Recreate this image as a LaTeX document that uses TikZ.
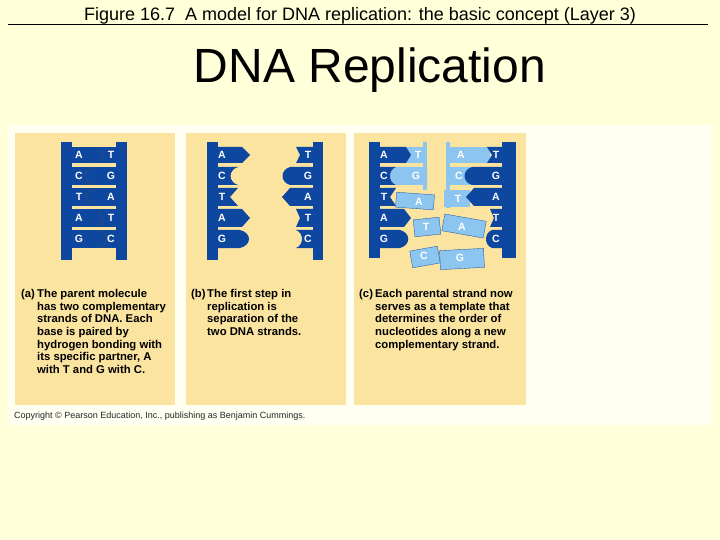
\documentclass[tikz,border=0pt]{standalone}
\usepackage{fontspec}
\setmainfont{Liberation Sans}
\definecolor{pagebg}{HTML}{FFFFD9}
\definecolor{figbg}{HTML}{FFFFF2}
\definecolor{tan}{HTML}{FBE3A0}
\definecolor{dblue}{HTML}{0E47A0}
\definecolor{lblue}{HTML}{8CC6F0}
\begin{document}
\begin{tikzpicture}[x=1pt,y=-1pt,
  panel/.style={fill=tan,draw=none},
  bb/.style={fill=dblue,draw=none},
  nb/.style={fill=lblue,draw=dblue,line width=0.3pt},
  let/.style={text=white,font=\bfseries\fontsize{10.5}{11}\selectfont,inner sep=0},
  letn/.style={text=white,font=\bfseries\fontsize{10.5}{11}\selectfont,inner sep=0},
  captxt/.style={font=\bfseries\fontsize{11.3}{12.7}\selectfont,align=left,anchor=north west,inner sep=0},
  jn/.style={draw=black!70,line width=0.4pt}]
\useasboundingbox (0,0) rectangle (720,540);
\fill[pagebg] (0,0) rectangle (720,540);
\node[font=\fontsize{18}{20}\selectfont,inner sep=0] (title) at (360,16) {Figure 16.7\ \ A model for DNA replication: the basic concept (Layer 3)};
\draw[line width=0.6pt] (8,24) -- (708,24);
\node[font=\fontsize{48}{52}\selectfont,inner sep=0] (head) at (370,70) {DNA Replication};
\fill[figbg] (8,125) rectangle (713,425);
\fill[panel] (15,133) rectangle (175,405);
\fill[panel] (186,133) rectangle (346,405);
\fill[panel] (354,133) rectangle (526,405);
% ---- panel a
\fill[bb] (61,142) rectangle (72,260);
\fill[bb] (116,142) rectangle (127,260);
\foreach \ya/\yb in {147/163,167/185,188/206,209/227,230/248} \fill[bb] (72,\ya) rectangle (116,\yb);
\draw[jn] (99,147) -- (103,155) -- (99,163);
\draw[jn] (93,167) .. controls (83,170) and (83,182) .. (93,185);
\draw[jn] (93,188) -- (85,197) -- (93,206);
\draw[jn] (99,209) -- (103,218) -- (99,227);
\draw[jn] (99,230) .. controls (109,233) and (109,245) .. (99,248);
\foreach \y/\l/\r in {155/A/T,176/C/G,197/T/A,218/A/T,239/G/C}{
  \node[let] at (79,\y) {\l}; \node[let] at (111,\y) {\r};}
% ---- panel b
\fill[bb] (207,142) rectangle (218,260);
\fill[bb] (313,142) rectangle (323,260);
\fill[bb] (218,147) -- (242,147) -- (250,155) -- (242,163) -- (218,163) -- cycle;
\fill[bb] (218,167) -- (238,167) .. controls (228,170) and (228,182) .. (238,185) -- (218,185) -- cycle;
\fill[bb] (218,188) -- (238,188) -- (230,197) -- (238,206) -- (218,206) -- cycle;
\fill[bb] (218,209) -- (242,209) -- (250,218) -- (242,227) -- (218,227) -- cycle;
\fill[bb] (218,230) -- (240,230) .. controls (252,233) and (252,245) .. (240,248) -- (218,248) -- cycle;
\fill[bb] (313,147) -- (296,147) -- (300,155) -- (296,163) -- (313,163) -- cycle;
\fill[bb] (313,167) -- (290,167) .. controls (280,170) and (280,182) .. (290,185) -- (313,185) -- cycle;
\fill[bb] (313,188) -- (290,188) -- (282,197) -- (290,206) -- (313,206) -- cycle;
\fill[bb] (313,209) -- (296,209) -- (300,218) -- (296,227) -- (313,227) -- cycle;
\fill[bb] (313,230) -- (296,230) .. controls (304,233) and (304,245) .. (296,248) -- (313,248) -- cycle;
\foreach \y/\l/\r in {155/A/T,176/C/G,197/T/A,218/A/T,239/G/C}{
  \node[let] at (222,\y) {\l}; \node[let] at (308,\y) {\r};}
% ---- panel c
\fill[bb] (369,142) rectangle (380,258);
\fill[bb] (502,142) rectangle (516,258);
\fill[lblue] (423,142) rectangle (427,190);
\fill[lblue] (446,142) rectangle (450,208);
% left row 1,2
\fill[lblue] (400,147) rectangle (427,163);
\fill[bb] (380,147) -- (406,147) -- (411,155) -- (406,163) -- (380,163) -- cycle;
\fill[lblue] (396,167) -- (427,167) -- (427,185) -- (396,185) .. controls (388,182) and (388,170) .. (396,167) -- cycle;
\fill[bb] (380,167) -- (396,167) .. controls (388,170) and (388,182) .. (396,185) -- (380,185) -- cycle;
% left row 3-5
\fill[bb] (380,188) -- (396,188) -- (390,197) -- (396,206) -- (380,206) -- cycle;
\fill[bb] (380,209) -- (404,209) -- (411,218) -- (404,227) -- (380,227) -- cycle;
\fill[bb] (380,230) -- (400,230) .. controls (411,233) and (411,245) .. (400,248) -- (380,248) -- cycle;
\node[nb,rotate=-4,minimum width=38,minimum height=15,inner sep=0] (nA1) at (415,201) {};
\node[letn] at (419,202) {A};
\node[nb,rotate=6,minimum width=26,minimum height=17,inner sep=0] (nT1) at (427,227) {};
\node[letn] at (426,227) {T};
\node[nb,rotate=10,minimum width=28,minimum height=17,inner sep=0] (nC1) at (425,257) {};
\node[letn] at (424,256) {C};
% right row 1,2
\fill[lblue] (450,147) rectangle (490,163);
\fill[bb] (502,147) -- (487,147) -- (492,155) -- (487,163) -- (502,163) -- cycle;
\fill[lblue] (450,167) rectangle (472,185);
\fill[bb] (502,167) -- (472,167) .. controls (462,170) and (462,182) .. (472,185) -- (502,185) -- cycle;
\fill[lblue] (444,190) -- (470,190) -- (470,207) -- (444,207) -- cycle;
\fill[bb] (502,188) -- (474,188) -- (466,197) -- (474,206) -- (502,206) -- cycle;
\fill[bb] (502,209) -- (490,209) -- (494,218) -- (490,227) -- (502,227) -- cycle;
\fill[bb] (502,230) -- (492,230) .. controls (484,233) and (484,245) .. (492,248) -- (502,248) -- cycle;
\node[nb,rotate=-10,minimum width=42,minimum height=17,inner sep=0] (nA2) at (464,226) {};
\node[letn] at (462,227) {A};
\node[nb,rotate=3,minimum width=44,minimum height=19,inner sep=0] (nG2) at (462,259) {};
\node[letn] at (460,258) {G};
\foreach \y/\l in {155/A,176/C,197/T,218/A,239/G} \node[let] at (384,\y) {\l};
\foreach \y/\r in {155/T,176/G,197/A,218/T,239/C} \node[let] at (496,\y) {\r};
\node[letn] at (418,155) {T}; \node[letn] at (416,176) {G};
\node[letn] at (461,155) {A}; \node[letn] at (459,176) {C};
\node[letn] at (458,199) {T};
% ---- captions
\node[captxt] (ca) at (21,289) {(a)};
\node[captxt] (cat) at (37,289) {The parent molecule\\has two complementary\\strands of DNA. Each\\base is paired by\\hydrogen bonding with\\its specific partner, A\\with T and G with C.};
\node[captxt] (cb) at (191,289) {(b)};
\node[captxt] (cbt) at (207,289) {The first step in\\replication is\\separation of the\\two DNA strands.};
\node[captxt] (cc) at (359,289) {(c)};
\node[captxt] (cct) at (375,289) {Each parental strand now\\serves as a template that\\determines the order of\\nucleotides along a new\\complementary strand.};
\node[font=\fontsize{9}{10}\selectfont,anchor=west,inner sep=0,text=black!85] (copy) at (14,416) {Copyright \textcopyright\ Pearson Education, Inc., publishing as Benjamin Cummings.};
\end{tikzpicture}
\end{document}
